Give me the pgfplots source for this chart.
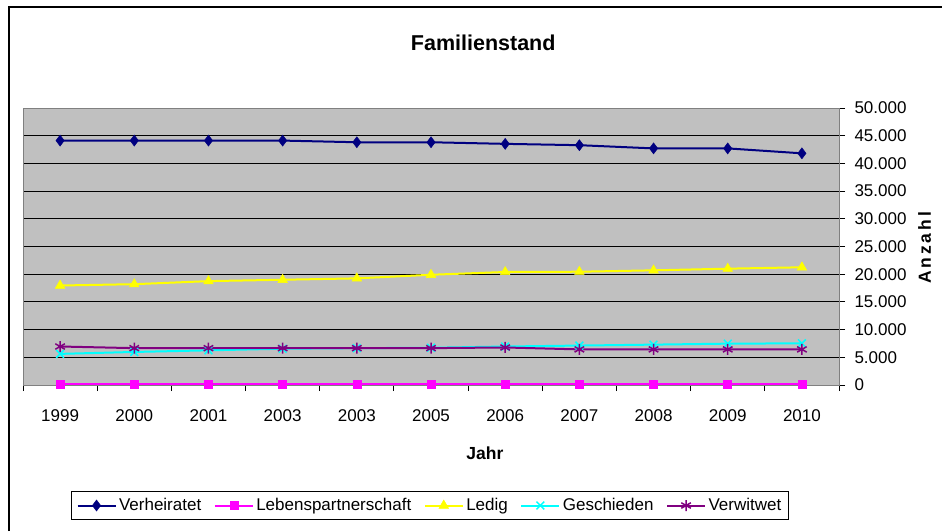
\documentclass[border=0pt]{standalone}
\usepackage{pgfplots}
\pgfplotsset{compat=1.18}
\usepackage{fontspec}
\setmainfont{Liberation Sans}
\definecolor{plotgray}{HTML}{C0C0C0}
\definecolor{cNavy}{HTML}{000080}
\definecolor{cMag}{HTML}{FF00FF}
\definecolor{cYel}{HTML}{FFFF00}
\definecolor{cCyan}{HTML}{00FFFF}
\definecolor{cPurp}{HTML}{800080}
\pgfplotsset{/pgf/number format/assume math mode=true}
\begin{document}
\begin{tikzpicture}[x=1pt,y=1pt]
\path[use as bounding box] (0,0) rectangle (942,-531);
\draw[line width=1.2pt] (9,-531) -- (9,-7) -- (942,-7);
\begin{axis}[
  at={(23pt,-385pt)}, anchor=south west, scale only axis,
  width=816pt, height=277pt,
  xmin=-0.5, xmax=10.5, ymin=0, ymax=50000,
  axis background/.style={fill=plotgray},
  axis line style={draw=black!50, line width=1pt},
  ymajorgrids, grid style={black, line width=1pt},
  ytick={0,5000,...,50000},
  ytick pos=right, yticklabel pos=right,
  tick align=outside, major tick length=6pt,
  tick style={black, line width=1pt},
  scaled y ticks=false,
  y tick label style={xshift=6pt, /pgf/number format/.cd, fixed, 1000 sep={.}, assume math mode=true},
  xtick={-0.5,0.5,...,10.5}, xticklabels={}, xtick pos=left,
  extra x ticks={0,1,2,3,4,5,6,7,8,9,10},
  extra x tick labels={1999,2000,2001,2003,2003,2005,2006,2007,2008,2009,2010},
  extra x tick style={major tick length=0pt, tick label style={yshift=-21pt}},
  tick label style={font=\fontsize{17}{20}\selectfont},
  every axis title/.style={at={(axis description cs:0.564,1.2347)}, anchor=center, font=\fontsize{21.5}{24}\selectfont\bfseries},
  title={Familienstand},
  every axis x label/.style={at={(axis description cs:0.566,-0.2455)}, anchor=center, font=\fontsize{17.5}{20}\selectfont\bfseries},
  xlabel={Jahr},
  every axis y label/.style={at={(axis description cs:1.105,0.495)}, anchor=center, rotate=90, font=\fontsize{17.5}{20}\selectfont\bfseries},
  ylabel={A\,n\,z\,a\,h\,l},
  legend columns=-1,
  legend style={at={(axis description cs:0.499,-0.383)}, anchor=north, draw=black, line width=1pt, fill=white,
    font=\fontsize{17}{20}\selectfont, inner xsep=5pt, inner ysep=3pt,
    nodes={inner xsep=2.5pt, inner ysep=4pt},
    /tikz/every even column/.append style={column sep=10pt}},
  legend image code/.code={\draw[mark repeat=2,mark phase=2,#1] plot coordinates {(0pt,0pt) (19pt,0pt) (38pt,0pt)};},
]
\addplot[color=cNavy, line width=2pt, mark=diamond*, mark size=5.5pt, mark options={solid, line width=0.5pt}] coordinates {
 (0,44120) (1,44120) (2,44120) (3,44120) (4,43820) (5,43820) (6,43530) (7,43290) (8,42710) (9,42710) (10,41820)};
\addlegendentry{Verheiratet}
\addplot[color=cMag, line width=2pt, mark=square*, mark size=4pt, mark options={solid, line width=0.5pt}] coordinates {
 (0,100) (1,100) (2,100) (3,100) (4,100) (5,100) (6,100) (7,100) (8,100) (9,100) (10,100)};
\addlegendentry{Lebenspartnerschaft}
\addplot[color=cYel, line width=2pt, mark=triangle*, mark size=5.5pt, mark options={solid, line width=0.5pt}] coordinates {
 (0,17960) (1,18200) (2,18750) (3,19000) (4,19250) (5,19900) (6,20400) (7,20450) (8,20700) (9,21000) (10,21250)};
\addlegendentry{Ledig}
\addplot[color=cCyan, line width=2pt, mark=x, mark size=5.5pt, mark options={solid, line width=1.5pt}] coordinates {
 (0,5620) (1,5965) (2,6260) (3,6550) (4,6655) (5,6720) (6,6950) (7,7120) (8,7290) (9,7465) (10,7520)};
\addlegendentry{Geschieden}
\addplot[color=cPurp, line width=2pt, mark=asterisk, mark size=5.5pt, mark options={solid, line width=1.5pt}] coordinates {
 (0,6950) (1,6655) (2,6655) (3,6655) (4,6655) (5,6655) (6,6775) (7,6430) (8,6430) (9,6430) (10,6430)};
\addlegendentry{Verwitwet}
\end{axis}
\end{tikzpicture}
\end{document}
